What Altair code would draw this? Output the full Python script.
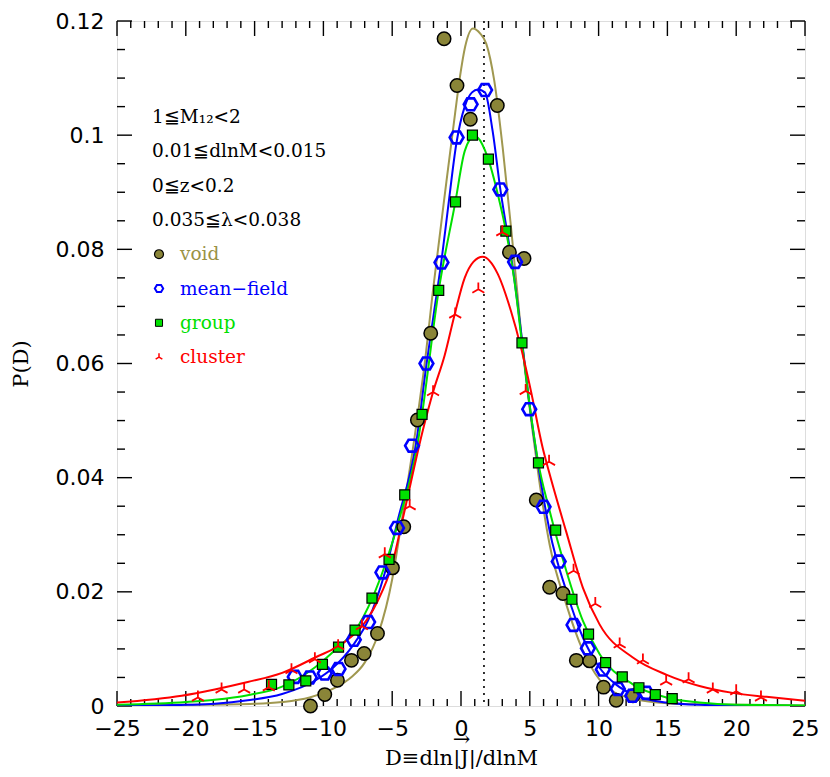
import altair as alt
import pandas as pd

# ---------------- data ----------------
# fitted curves
void_curve_D = [-25, -20, -15, -13, -11, -10, -9, -8, -7, -6, -5, -4.4, -3.5, -3.1, -2.7, -2.0, -1.13, -0.42,
                -0.09, 0.3, 0.87, 1.4, 1.84, 2.42, 3.03, 3.63, 3.99, 4.6, 5.2, 5.69, 6.44, 7.65, 8.86, 10.07,
                11.28, 12.49, 15, 20, 25]
void_curve_P = [0.0001, 0.0002, 0.0004, 0.0007, 0.0015, 0.0023, 0.0034, 0.0050, 0.0076, 0.0127, 0.0222, 0.0310,
                0.0450, 0.0517, 0.0588, 0.0735, 0.0905, 0.1040, 0.1100, 0.1155, 0.1187, 0.1178, 0.1160, 0.1095,
                0.0978, 0.0840, 0.0750, 0.0600, 0.0482, 0.0394, 0.0283, 0.0178, 0.0097, 0.0046, 0.0022, 0.0013,
                0.0005, 0.0002, 0.0001]

mf_curve_D = [-25, -20, -17.9, -15.5, -13.0, -10.5, -9.3, -7.8, -6.75, -5.55, -4.6, -3.24, -2.51, -1.96, -1.42,
              -0.94, -0.34, 0.27, 0.8, 1.23, 1.74, 2.3, 2.86, 3.34, 3.7, 4.24, 4.97, 5.69, 6.44, 7.65, 8.86,
              10.07, 11.3, 12.49, 14.91, 17.33, 20, 25]
mf_curve_P = [0.0000, 0.0002, 0.0004, 0.0010, 0.0021, 0.0046, 0.0067, 0.0108, 0.0150, 0.0232, 0.0325, 0.0464,
              0.0598, 0.0690, 0.0780, 0.0873, 0.0985, 0.1050, 0.1075, 0.1080, 0.1075, 0.1007, 0.0905, 0.0832,
              0.0778, 0.0680, 0.0530, 0.0410, 0.0307, 0.0202, 0.0120, 0.0067, 0.0037, 0.0020, 0.0006, 0.0002,
              0.0001, 0.0000]

grp_curve_D = [-25, -20, -17.9, -15.5, -13.0, -10.6, -8.93, -7.7, -6.43, -5.42, -4.4, -3.12, -2.83, -1.62,
               -0.41, 0.27, 0.99, 1.21, 1.94, 2.67, 3.27, 3.88, 4.43, 5.08, 5.62, 6.44, 7.65, 8.86, 10.07,
               12.49, 14.91, 17.33, 20, 25]
grp_curve_P = [0.0002, 0.0007, 0.0011, 0.0019, 0.0034, 0.0068, 0.0103, 0.0132, 0.0190, 0.0254, 0.0335, 0.0464,
               0.0511, 0.0728, 0.0883, 0.0972, 0.0999, 0.0996, 0.0961, 0.0897, 0.0832, 0.0745, 0.0636, 0.0511,
               0.0426, 0.0342, 0.0237, 0.0149, 0.0091, 0.0038, 0.0015, 0.0006, 0.0002, 0.0001]

cl_curve_D = [-25, -20.3, -17.9, -15.5, -13.0, -10.6, -8.45, -6.87, -6.05, -4.98, -4.26, -2.7, -2.03, -1.18,
              -0.46, 0.27, 0.9, 1.58, 2.67, 3.63, 4.36, 5.08, 5.93, 6.4, 7.65, 8.86, 10.07, 12.49, 14.91, 17.33,
              19.75, 22.2, 25]
cl_curve_P = [0.0006, 0.0018, 0.0029, 0.0042, 0.0058, 0.0085, 0.0112, 0.0150, 0.0184, 0.0250, 0.0325, 0.0490,
              0.0550, 0.0615, 0.0686, 0.0750, 0.0778, 0.0787, 0.0757, 0.0692, 0.0628, 0.0552, 0.0453, 0.0410,
              0.0305, 0.0207, 0.0143, 0.0085, 0.0055, 0.0035, 0.0023, 0.0016, 0.0009]

# measured points
void_D = [-10.94, -9.9, -8.98, -7.96, -7.04, -6.07, -4.98, -4.16, -3.17, -2.2, -1.23, -0.29, 0.68, 2.64,
          3.52, 4.58, 5.47, 6.44, 7.41, 8.38, 9.35, 10.36, 11.28, 12.5]
void_P = [0.0000, 0.0020, 0.0045, 0.0080, 0.0092, 0.0127, 0.0242, 0.0314, 0.0501, 0.0653, 0.1169, 0.1087,
          0.1028, 0.1052, 0.0795, 0.0784, 0.0361, 0.0208, 0.0197, 0.0080, 0.0079, 0.0033, 0.0010, 0.0018]

mf_D = [-12.08, -10.99, -9.9, -8.9, -7.79, -6.75, -5.71, -4.65, -3.56, -2.51, -1.42, -0.32, 0.7, 1.75,
        2.86, 3.93, 4.96, 6.0, 7.1, 8.18, 9.22, 10.31, 11.4, 12.45, 13.46]
mf_P = [0.0051, 0.0050, 0.0057, 0.0065, 0.0116, 0.0147, 0.0234, 0.0312, 0.0456, 0.0600, 0.0777, 0.0996,
        0.1054, 0.1079, 0.0905, 0.0778, 0.0520, 0.0349, 0.0253, 0.0142, 0.0101, 0.0064, 0.0030, 0.0018, 0.0023]

grp_D = [-13.77, -12.51, -11.28, -10.07, -8.9, -7.7, -6.47, -5.23, -4.09, -2.83, -1.62, -0.4, 0.83, 1.99,
         3.26, 4.43, 5.63, 6.88, 8.06, 9.27, 10.51, 11.72, 12.93, 14.12, 15.35]
grp_P = [0.0038, 0.0037, 0.0044, 0.0073, 0.0103, 0.0133, 0.0189, 0.0257, 0.0370, 0.0511, 0.0728, 0.0883,
         0.1000, 0.0958, 0.0832, 0.0636, 0.0426, 0.0308, 0.0187, 0.0126, 0.0076, 0.0051, 0.0032, 0.0020, 0.0013]

cl_D = [-19.12, -17.4, -15.76, -13.97, -12.32, -10.62, -8.93, -7.2, -5.54, -3.73, -2.03, -0.42, 1.26, 3.0,
        4.7, 6.4, 8.18, 9.76, 11.53, 13.22, 14.91, 16.54, 18.3, 20.0, 21.8]
cl_P = [0.0015, 0.0029, 0.0029, 0.0033, 0.0063, 0.0082, 0.0105, 0.0140, 0.0266, 0.0350, 0.0550, 0.0686,
        0.0730, 0.0830, 0.0552, 0.0428, 0.0237, 0.0179, 0.0108, 0.0080, 0.0043, 0.0047, 0.0029, 0.0026, 0.0015]

mean_D = 1.67

x_major = [-25, -20, -15, -10, -5, 0, 5, 10, 15, 20, 25]
x_minor = [v for v in range(-25, 26) if v % 5 != 0]
y_major = [0, 0.02, 0.04, 0.06, 0.08, 0.1, 0.12]
y_minor = [0.005, 0.01, 0.015, 0.025, 0.03, 0.035, 0.045, 0.05, 0.055, 0.065, 0.07, 0.075,
           0.085, 0.09, 0.095, 0.105, 0.11, 0.115]

x_title = ["→\u00a0", "D≡dln|J|/dlnM"]
y_title = "P(D)"
cond_lines = ["1≦M₁₂<2", "0.01≦dlnM<0.015", "0≦z<0.2", "0.035≦λ<0.038"]
legend_labels = ["void", "mean−field", "group", "cluster"]

# ---------------- styling ----------------
W, H = 688, 685
OLIVE_LINE = "#a09850"
OLIVE_FILL = "#8a8538"
OLIVE_TEXT = "#9a9245"
BLUE = "#0000ff"
GREEN = "#00e000"
RED = "#ff0000"
HEX = "M-1,0L-0.5,-0.866L0.5,-0.866L1,0L0.5,0.866L-0.5,0.866Z"
TRI = "M0,0L0,-1M0,0L-0.866,0.5M0,0L0.866,0.5"

xs = alt.Scale(domain=[-25, 25], nice=False, zero=False)
ys = alt.Scale(domain=[0, 0.12], nice=False, zero=False)

xaxis = alt.Axis(values=x_major, format="d", tickSize=0, domain=False, grid=False,
                 labelFont="DejaVu Sans", labelFontSize=22, labelPadding=12, labelColor="black",
                 labelFlush=False, labelOverlap=False,
                 title=x_title, titleFont="DejaVu Serif", titleFontSize=21, titleLineHeight=19,
                 titleFontWeight="normal", titleColor="black", titlePadding=-11)
yaxis = alt.Axis(values=y_major, labelExpr="'' + datum.value", tickSize=0, domain=False, grid=False,
                 labelFont="DejaVu Sans", labelFontSize=22, labelPadding=13, labelColor="black",
                 labelFlush=False, labelOverlap=False,
                 title=y_title, titleFont="DejaVu Serif", titleFontSize=21,
                 titleFontWeight="normal", titleColor="black", titlePadding=24)


def X(field):
    return alt.X(field, type="quantitative", scale=xs, axis=xaxis)


def Y(field):
    return alt.Y(field, type="quantitative", scale=ys, axis=yaxis)


def curve(D, P, color):
    df = pd.DataFrame({"D": D, "P": P})
    return alt.Chart(df).mark_line(color=color, strokeWidth=2, interpolate="monotone", clip=True).encode(
        x=X("D"), y=Y("P"))


def pts(D, P, **mk):
    df = pd.DataFrame({"D": D, "P": P})
    return alt.Chart(df).mark_point(opacity=1, **mk).encode(x=X("D"), y=Y("P"))


layers = []

# inward ticks on all four sides
for vals, length in ((x_major, 15), (x_minor, 7)):
    tdf = pd.DataFrame({"t": vals})
    layers.append(alt.Chart(tdf).mark_rule(color="black", strokeWidth=1.4).encode(
        x=X("t"), y=alt.value(H), y2=alt.value(H - length)))
    layers.append(alt.Chart(tdf).mark_rule(color="black", strokeWidth=1.4).encode(
        x=X("t"), y=alt.value(0), y2=alt.value(length)))
for vals, length in ((y_major, 15), (y_minor, 8)):
    tdf = pd.DataFrame({"t": vals})
    layers.append(alt.Chart(tdf).mark_rule(color="black", strokeWidth=1.4).encode(
        y=Y("t"), x=alt.value(0), x2=alt.value(length)))
    layers.append(alt.Chart(tdf).mark_rule(color="black", strokeWidth=1.4).encode(
        y=Y("t"), x=alt.value(W), x2=alt.value(W - length)))

# dotted line at mean
layers.append(alt.Chart(pd.DataFrame({"m": [mean_D]})).mark_rule(
    color="black", strokeWidth=1.6, strokeDash=[2, 5]).encode(x=X("m")))

# curves
layers += [
    curve(void_curve_D, void_curve_P, OLIVE_LINE),
    curve(mf_curve_D, mf_curve_P, BLUE),
    curve(grp_curve_D, grp_curve_P, GREEN),
    curve(cl_curve_D, cl_curve_P, RED),
]

# points
layers += [
    pts(void_D, void_P, shape="circle", filled=True, fill=OLIVE_FILL, stroke="black", strokeWidth=1.5, size=180),
    pts(mf_D, mf_P, shape=HEX, filled=False, stroke=BLUE, strokeWidth=2.6, size=190),
    pts(grp_D, grp_P, shape="square", filled=True, fill=GREEN, stroke="black", strokeWidth=1.2, size=100),
    pts(cl_D, cl_P, shape=TRI, filled=False, stroke=RED, strokeWidth=1.8, size=190),
]

# annotation text block
row0, step = 96, 34.3
for i, txt in enumerate(cond_lines):
    layers.append(alt.Chart(pd.DataFrame({"s": [txt]})).mark_text(
        align="left", baseline="middle", font="DejaVu Serif", fontSize=18.5, color="black").encode(
        text="s:N", x=alt.value(35), y=alt.value(row0 + i * step)))

legend_cols = [OLIVE_TEXT, BLUE, GREEN, RED]
legend_marks = [
    dict(shape="circle", filled=True, fill=OLIVE_FILL, stroke="black", strokeWidth=1.2, size=80),
    dict(shape=HEX, filled=False, stroke=BLUE, strokeWidth=2, size=70),
    dict(shape="square", filled=True, fill=GREEN, stroke="black", strokeWidth=1, size=50),
    dict(shape=TRI, filled=False, stroke=RED, strokeWidth=1.5, size=60),
]
for j, (lab, col, mk) in enumerate(zip(legend_labels, legend_cols, legend_marks)):
    yy = row0 + (len(cond_lines) + j) * step
    ldf = pd.DataFrame({"s": [lab]})
    layers.append(alt.Chart(ldf).mark_point(opacity=1, **mk).encode(
        x=alt.value(42), y=alt.value(yy)))
    layers.append(alt.Chart(ldf).mark_text(
        align="left", baseline="middle", font="DejaVu Serif", fontSize=18.5, color=col).encode(
        text="s:N", x=alt.value(63), y=alt.value(yy)))

chart = alt.layer(*layers).properties(
    width=W, height=H,
    autosize=alt.AutoSizeParams(type="none"),
    padding={"left": 109, "top": 13, "right": 17, "bottom": 63},
).configure_view(stroke="black", strokeWidth=1.6).configure(background="white")

chart.save("out.html", embed_options={"renderer": "svg", "actions": False})
